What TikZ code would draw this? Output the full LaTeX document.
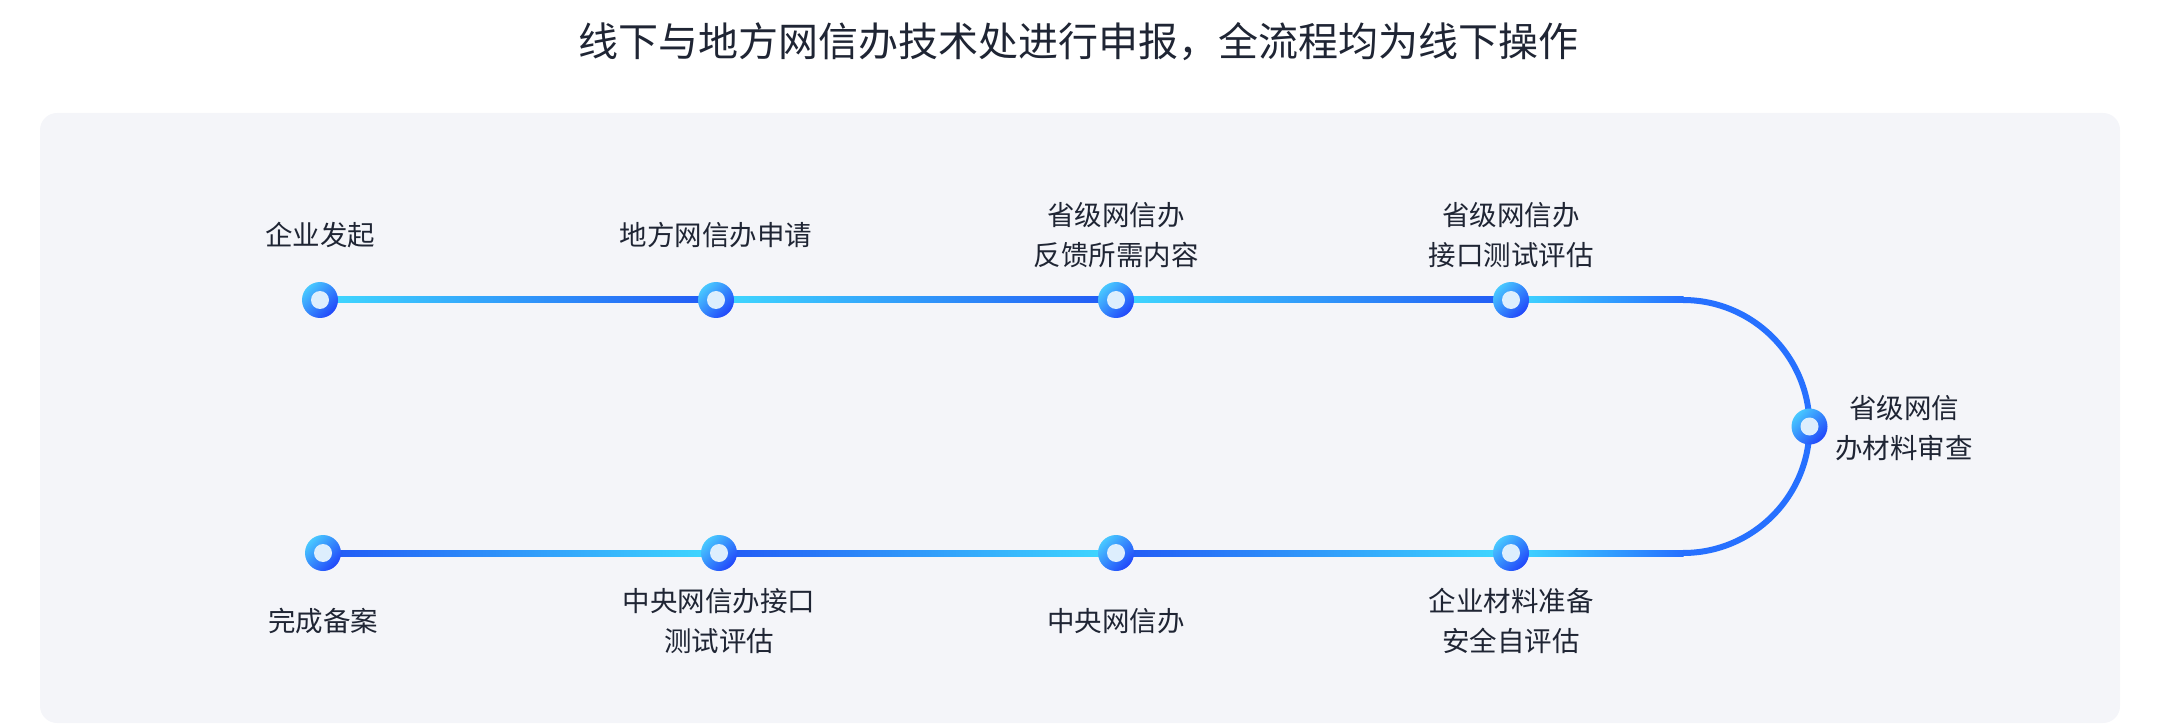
\documentclass[tikz,border=0pt]{standalone}
\usepackage{fontspec}
\setmainfont{Noto Sans CJK SC}
\usetikzlibrary{calc,backgrounds}
\definecolor{bgc}{HTML}{F4F5F9}
\definecolor{txtc}{HTML}{1F2534}
\definecolor{linea}{HTML}{40DAFF}
\definecolor{lineb}{HTML}{2158F5}
\definecolor{arcc}{HTML}{2670FF}
\definecolor{ringa}{HTML}{48C8FF}
\definecolor{ringb}{HTML}{2146FA}
\definecolor{innerc}{HTML}{DDEEFD}
\begin{document}
\begin{tikzpicture}[x=1pt,y=1pt,
  dot/.style={circle, inner sep=0pt, minimum size=36pt, top color=ringa, bottom color=ringb, shading angle=45,
    path picture={\fill[innerc] (path picture bounding box.center) circle (9pt);}},
  lbl/.style={align=center, text=txtc, font=\fontsize{27.5}{40}\selectfont}]
\useasboundingbox (0,0) rectangle (2160,724);
\node [text=txtc, font=\fontsize{40}{48}\selectfont] (title) at (1078,682) {线下与地方网信办技术处进行申报，全流程均为线下操作};
\coordinate (tc) at (1683,424);
\coordinate (bc) at (1683,171);
\node [dot] (t1) at (320,424) {};
\node [dot] (t2) at (716,424) {};
\node [dot] (t3) at (1116,424) {};
\node [dot] (t4) at (1511,424) {};
\node [dot] (r) at (1809.5,297.5) {};
\node [dot] (b4) at (1511,171) {};
\node [dot] (b3) at (1116,171) {};
\node [dot] (b2) at (719,171) {};
\node [dot] (b1) at (323,171) {};
\node [lbl] (lt1) at ($(t1)+(0,65)$) {企业发起};
\node [lbl] (lt2) at ($(t2)+(0,65)$) {地方网信办申请};
\node [lbl] (lt3) at ($(t3)+(0,65)$) {省级网信办\\反馈所需内容};
\node [lbl] (lt4) at ($(t4)+(0,65)$) {省级网信办\\接口测试评估};
\node [lbl] (lr) at (1904,295.5) {省级网信\\办材料审查};
\node [lbl] (lb4) at ($(b4)+(0,-68)$) {企业材料准备\\安全自评估};
\node [lbl] (lb3) at ($(b3)+(0,-68)$) {中央网信办};
\node [lbl] (lb2) at ($(b2)+(0,-68)$) {中央网信办接口\\测试评估};
\node [lbl] (lb1) at ($(b1)+(0,-68)$) {完成备案};
\begin{scope}[on background layer]
\fill [bgc, rounded corners=17pt] (40,1) rectangle (2120,611);
\shade [left color=linea, right color=lineb] ([yshift=-3pt]t1.center) rectangle ([yshift=3pt]t2.center);
\shade [left color=linea, right color=lineb] ([yshift=-3pt]t2.center) rectangle ([yshift=3pt]t3.center);
\shade [left color=linea, right color=lineb] ([yshift=-3pt]t3.center) rectangle ([yshift=3pt]t4.center);
\shade [left color=linea, right color=arcc] ([yshift=-3pt]t4.center) rectangle ([yshift=3pt,xshift=0.5pt]tc);
\draw [arcc, line width=6pt] (tc) arc [start angle=90, end angle=-90, radius=126.5];
\shade [left color=linea, right color=arcc] ([yshift=-3pt]b4.center) rectangle ([yshift=3pt,xshift=0.5pt]bc);
\shade [left color=lineb, right color=linea] ([yshift=-3pt]b3.center) rectangle ([yshift=3pt]b4.center);
\shade [left color=lineb, right color=linea] ([yshift=-3pt]b2.center) rectangle ([yshift=3pt]b3.center);
\shade [left color=lineb, right color=linea] ([yshift=-3pt]b1.center) rectangle ([yshift=3pt]b2.center);
\end{scope}
\end{tikzpicture}
\end{document}
